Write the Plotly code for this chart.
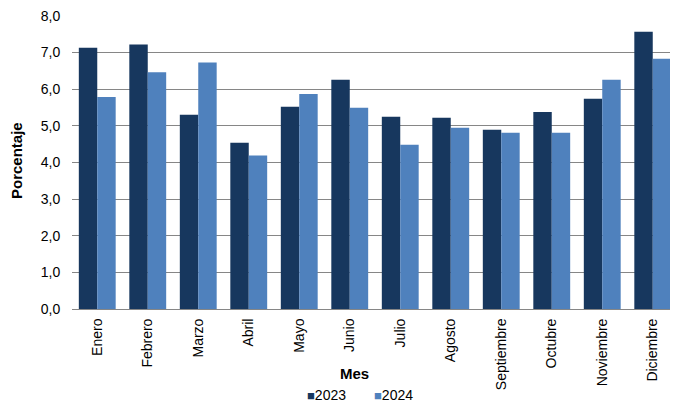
import plotly.graph_objects as go

meses = ["Enero", "Febrero", "Marzo", "Abril", "Mayo", "Junio", "Julio",
         "Agosto", "Septiembre", "Octubre", "Noviembre", "Diciembre"]
v2023 = [7.13, 7.22, 5.30, 4.54, 5.52, 6.26, 5.25, 5.22, 4.89, 5.38, 5.74, 7.57]
v2024 = [5.79, 6.46, 6.73, 4.19, 5.87, 5.49, 4.48, 4.95, 4.81, 4.81, 6.26, 6.83]
y_ticks = [0, 1, 2, 3, 4, 5, 6, 7, 8]
series_names = ["2023", "2024"]
series_colors = ["#17375E", "#4F81BD"]

font = "Liberation Sans, Arial, sans-serif"

# page has an 8px body margin, so the figure is sized to fill the rest
W, H = 670, 401
L, T, B = 64, 7, 100
plot_w = W - L
plot_h = H - T - B


def px_x(page_x):
    return (page_x - 72) / plot_w


def px_y(page_y):
    return (309 - page_y) / plot_h


fig = go.Figure()
for name, vals, col in zip(series_names, [v2023, v2024], series_colors):
    fig.add_bar(x=meses, y=vals, name=name, marker_color=col, marker_line_width=0)

annotations = [
    dict(text="<b>Porcentaje</b>", textangle=-90, x=px_x(16), xref="paper",
         xanchor="center", y=px_y(161), yref="paper", yanchor="middle",
         showarrow=False, font=dict(size=15)),
    dict(text="<b>Mes</b>", x=px_x(354), xref="paper", xanchor="center",
         y=px_y(373), yref="paper", yanchor="middle", showarrow=False,
         font=dict(size=15)),
]
# legend entries (square marker + label)
for name, col, lx in zip(series_names, series_colors, [305, 372]):
    annotations.append(dict(
        text=f"<span style='color:{col};font-size:13px'>■</span>{name}",
        x=px_x(lx), xref="paper", xanchor="left",
        y=px_y(395), yref="paper", yanchor="middle", showarrow=False,
        font=dict(size=14)))

fig.update_layout(
    width=W, height=H,
    margin=dict(l=L, r=0, t=T, b=B, autoexpand=False),
    barmode="group", bargap=0.27, bargroupgap=0,
    plot_bgcolor="white", paper_bgcolor="white",
    separators=",.",
    font=dict(family=font, size=14, color="black"),
    showlegend=False,
    xaxis=dict(tickangle=-90, showline=True, linecolor="#868686", linewidth=1,
               ticks="outside", ticklen=3, tickcolor="rgba(0,0,0,0)",
               tickfont=dict(size=14), automargin=False),
    yaxis=dict(range=[0, 8.025], tickvals=y_ticks, tickformat=".1f",
               showgrid=True, gridcolor="#868686", gridwidth=1,
               zeroline=False, showline=False, ticks="outside", ticklen=8,
               tickcolor="rgba(0,0,0,0)", automargin=False,
               ticklabeloverflow="allow", tickfont=dict(size=14)),
    annotations=annotations,
)

fig.write_html("out.html")
